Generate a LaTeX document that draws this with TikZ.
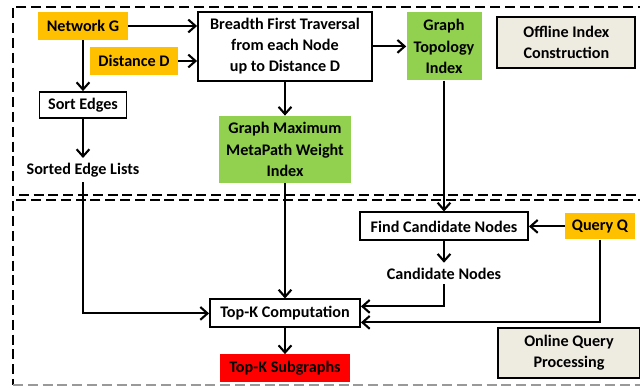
\documentclass[tikz,border=0pt]{standalone}
\usepackage{fontspec}
\setmainfont{Carlito}
\usetikzlibrary{positioning,calc,arrows.meta}

\definecolor{inputorange}{HTML}{FFC000}
\definecolor{indexgreen}{HTML}{92D050}
\definecolor{phasebeige}{HTML}{EEECE1}

\begin{document}
\begin{tikzpicture}[
    node distance=1cm, on grid,
    font=\bfseries\fontsize{11.5}{15}\selectfont,
    input/.style={rectangle, fill=inputorange, minimum height=0.7cm, align=center},
    process/.style={draw, rectangle, line width=1.3pt, fill=white, minimum height=0.7cm, align=center},
    index/.style={rectangle, fill=indexgreen, minimum height=1.7cm, align=center},
    phase/.style={draw, rectangle, line width=1.3pt, fill=phasebeige, minimum height=1.27cm, align=center},
    result/.style={rectangle, fill=red, minimum width=3.25cm, minimum height=0.7cm},
    arr/.style={-{Straight Barb[length=1.8mm, width=3.2mm]}, line width=1.5pt},
    frame/.style={line width=1.4pt, dash pattern=on 0.25cm off 0.12cm}
]
    \useasboundingbox (0,0) rectangle (16,-9.675);

    % offline and online regions
    \draw[frame] (16.2,-0.175) -- (0.325,-0.175) -- (0.325,-4.875) -- (16.2,-4.875);
    \draw[frame] (16.2,-5.0) -- (0.325,-5.0) -- (0.325,-9.625);
    \draw[frame, black!40] (0.325,-9.625) -- (16.2,-9.625);

    % offline index construction
    \node[input, minimum width=2.25cm] (net) at (2.075,-0.65) {Network G};
    \node[input, minimum width=2.2cm, below right=0.875cm and 1.275cm of net] (dist) {Distance D};
    \node[process, minimum width=4.35cm, minimum height=1.725cm] (bfs) at (7.125,-1.16) {Breadth First Traversal\\from each Node\\up to Distance D};
    \node[index, minimum width=1.875cm, right=3.975cm of bfs] (topo) {Graph\\Topology\\Index};
    \node[phase, minimum width=3.45cm] (offline) at (14.16,-1.06) {Offline Index\\Construction};
    \node[process, minimum width=2.175cm, minimum height=0.65cm, below=1.975cm of net] (sort) {Sort Edges};
    \node[below=1.625cm of sort] (sorted) {Sorted Edge Lists};
    \node[index, minimum width=3.3cm, minimum height=1.675cm, below=2.575cm of bfs] (maxw) {Graph Maximum\\MetaPath Weight\\Index};

    % online query processing
    \node[process, minimum width=4.2cm, below=4.5cm of topo] (find) {Find Candidate Nodes};
    \node[below=1.175cm of find] (cand) {Candidate Nodes};
    \node[input, minimum width=1.75cm, minimum height=0.65cm, right=3.9cm of find] (query) {Query Q};
    \node[process, minimum width=3.75cm, below=4.1cm of maxw] (topk) {Top-K Computation};
    \node[result, below=1.375cm of topk] (sub) {Top-K Subgraphs};
    \node[phase, minimum width=3.55cm] (online) at (14.225,-8.825) {Online Query\\Processing};

    \draw[arr] (net) -- (net -| bfs.west);
    \draw[arr] (dist) -- (dist -| bfs.west);
    \draw[arr] (bfs) -- (topo);
    \draw[arr] (net) -- (sort);
    \draw[arr] (sort) -- (sorted);
    \draw[arr] (bfs.south) -- (bfs.south |- maxw.north);
    \draw[arr] (topo.south) -- (topo.south |- find.north);
    \draw[arr] (maxw.south) -- (maxw.south |- topk.north);
    \draw[arr] (sorted.south) |- (topk.west);
    \draw[arr] (find) -- (cand);
    \draw[arr] (query) -- (find);
    \draw[arr] (cand.south) |- ([yshift=0.175cm]topk.east);
    \draw[arr] (query.south) |- ([yshift=-0.225cm]topk.east);
    \draw[arr] (topk) -- (sub);
\end{tikzpicture}
\end{document}
